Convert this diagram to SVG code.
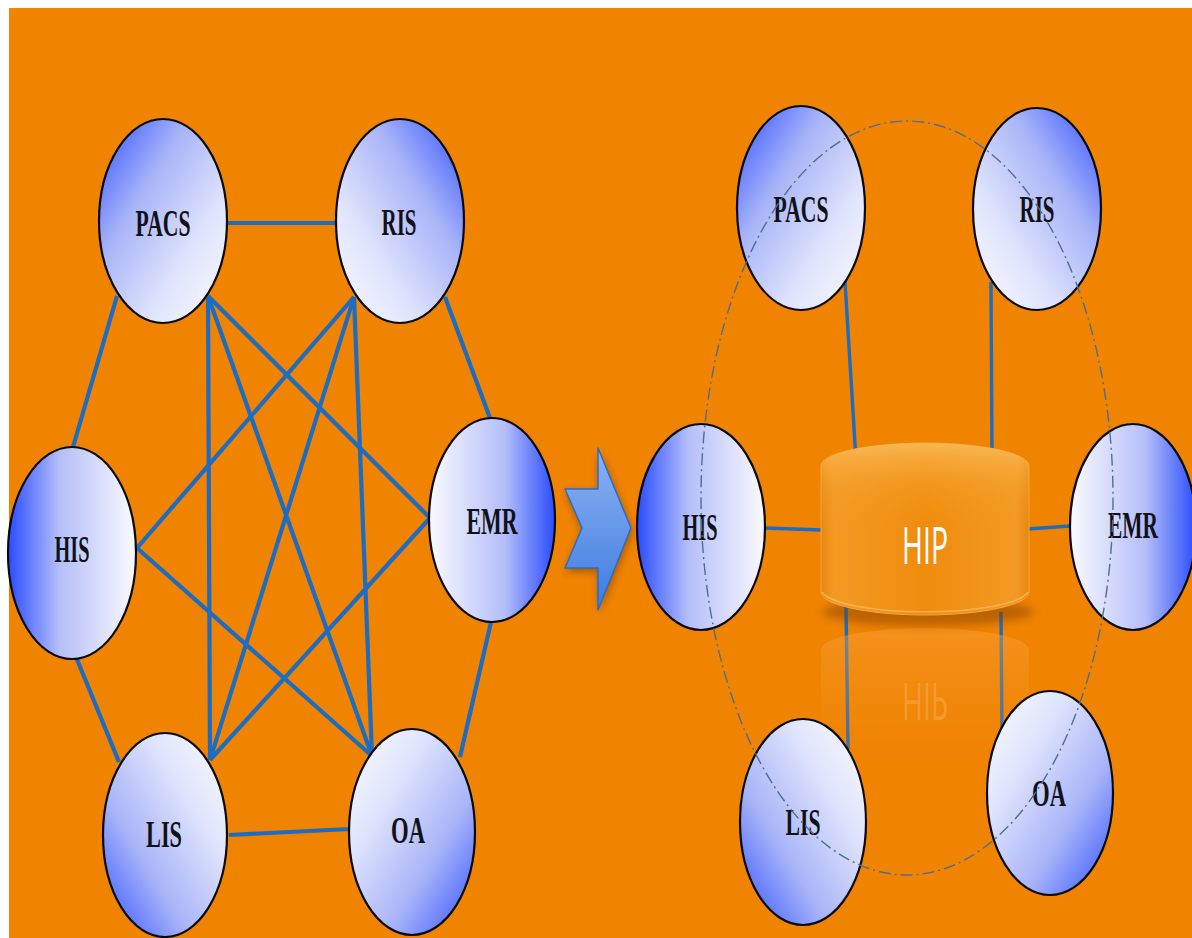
<svg xmlns="http://www.w3.org/2000/svg" width="1192" height="938" viewBox="0 0 1192 938">
  <style>
    .node { stroke: #0a0a0a; stroke-width: 2.2; }
    .lbl { font-family: "Liberation Serif", "Times New Roman", serif; font-weight: bold; font-size: 38px; fill: #111118; text-anchor: middle; }
    .ln { stroke: #1E6CC2; stroke-width: 4.2; stroke-linecap: butt; fill: none; }
    .lnr { stroke: #1E6CC2; stroke-width: 3.4; fill: none; }
  </style>
  <defs>
    <linearGradient id="gPacs" x1="0" y1="0" x2="1" y2="1">
      <stop offset="0" stop-color="#3050FF"/>
      <stop offset="0.35" stop-color="#A8B4F8"/>
      <stop offset="0.7" stop-color="#E2E6FD"/>
      <stop offset="1" stop-color="#FAFAFF"/>
    </linearGradient>
    <linearGradient id="gRis" x1="1" y1="0" x2="0" y2="1">
      <stop offset="0" stop-color="#3050FF"/>
      <stop offset="0.35" stop-color="#A8B4F8"/>
      <stop offset="0.7" stop-color="#E2E6FD"/>
      <stop offset="1" stop-color="#FAFAFF"/>
    </linearGradient>
    <linearGradient id="gHis" x1="0" y1="0" x2="1" y2="0">
      <stop offset="0" stop-color="#2A4CFF"/>
      <stop offset="0.4" stop-color="#B4BEF9"/>
      <stop offset="1" stop-color="#FAFAFF"/>
    </linearGradient>
    <linearGradient id="gEmr" x1="0" y1="0" x2="1" y2="0">
      <stop offset="0" stop-color="#FAFAFF"/>
      <stop offset="0.6" stop-color="#B4BEF9"/>
      <stop offset="1" stop-color="#2A4CFF"/>
    </linearGradient>
    <linearGradient id="gLis" x1="0" y1="1" x2="1" y2="0">
      <stop offset="0" stop-color="#3050FF"/>
      <stop offset="0.35" stop-color="#A8B4F8"/>
      <stop offset="0.7" stop-color="#E2E6FD"/>
      <stop offset="1" stop-color="#FAFAFF"/>
    </linearGradient>
    <linearGradient id="gOa" x1="0" y1="0" x2="1" y2="1">
      <stop offset="0" stop-color="#FAFAFF"/>
      <stop offset="0.3" stop-color="#E2E6FD"/>
      <stop offset="0.65" stop-color="#A8B4F8"/>
      <stop offset="1" stop-color="#3050FF"/>
    </linearGradient>
    <linearGradient id="gArrow" x1="0" y1="0" x2="0" y2="1">
      <stop offset="0" stop-color="#8DB2F2"/>
      <stop offset="1" stop-color="#3D7BE0"/>
    </linearGradient>
    <linearGradient id="gBody" x1="0" y1="0" x2="1" y2="0">
      <stop offset="0" stop-color="#E8870E"/>
      <stop offset="0.06" stop-color="#F39A24"/>
      <stop offset="0.5" stop-color="#EF8C0C"/>
      <stop offset="0.94" stop-color="#F39A24"/>
      <stop offset="1" stop-color="#E8870E"/>
    </linearGradient>
    <linearGradient id="gTopHi" x1="0" y1="0" x2="0" y2="1">
      <stop offset="0" stop-color="#FBC060" stop-opacity="0.8"/>
      <stop offset="0.25" stop-color="#F6A535" stop-opacity="0.35"/>
      <stop offset="0.5" stop-color="#F29A20" stop-opacity="0"/>
    </linearGradient>
    <linearGradient id="gRefl" x1="0" y1="0" x2="0" y2="1">
      <stop offset="0" stop-color="#F7A440" stop-opacity="0.9"/>
      <stop offset="0.6" stop-color="#F39220" stop-opacity="0.45"/>
      <stop offset="1" stop-color="#F08300" stop-opacity="0"/>
    </linearGradient>
    <filter id="shadow" x="-20%" y="-20%" width="140%" height="160%">
      <feGaussianBlur stdDeviation="4"/>
    </filter>
  </defs>

  <rect x="9" y="8" width="1183" height="930" fill="#F08300"/>

  <g id="connectors">
    <line class="ln" x1="228" y1="223" x2="336" y2="223"/>
    <line class="ln" x1="117" y1="296" x2="73" y2="447"/>
    <line class="ln" x1="74" y1="652" x2="119" y2="762"/>
    <line class="ln" x1="229" y1="835" x2="350" y2="829"/>
    <line class="ln" x1="460" y1="757" x2="491" y2="622"/>
    <line class="ln" x1="490" y1="418" x2="445" y2="297"/>
    <line class="ln" x1="208" y1="296" x2="210" y2="760"/>
    <line class="ln" x1="208" y1="296" x2="372" y2="756"/>
    <line class="ln" x1="208" y1="296" x2="430" y2="518"/>
    <line class="ln" x1="354" y1="297" x2="137" y2="548"/>
    <line class="ln" x1="354" y1="297" x2="210" y2="760"/>
    <line class="ln" x1="354" y1="297" x2="372" y2="756"/>
    <line class="ln" x1="137" y1="548" x2="372" y2="756"/>
    <line class="ln" x1="430" y1="518" x2="210" y2="760"/>
    <line class="lnr" x1="845" y1="282" x2="856" y2="460"/>
    <line class="lnr" x1="991" y1="282" x2="992" y2="460"/>
    <line class="lnr" x1="765" y1="528" x2="822" y2="530"/>
    <line class="lnr" x1="1028" y1="529" x2="1070" y2="526"/>
    <line class="lnr" x1="846" y1="606" x2="848" y2="749"/>
    <line class="lnr" x1="1001" y1="612" x2="1002" y2="735"/>
  </g>

  <g id="arrow">
    <polygon points="565,489 598,489 598,448 631,528 598,610 598,568 565,568 582,528" fill="#000" opacity="0.35" filter="url(#shadow)" transform="translate(1,3)"/>
    <polygon points="565,489 598,489 598,448 631,528 598,610 598,568 565,568 582,528" fill="url(#gArrow)" stroke="#2A6BD0" stroke-width="1.5" stroke-linejoin="round"/>
  </g>

  <g id="hip-reflection">
    <path d="M821,650 A104,22 0 0 1 1029,650 L1029,780 L821,780 Z" fill="url(#gRefl)" opacity="0.5"/>
    <text x="0" y="0" transform="translate(925,683) scale(1,-1)" font-family="'Open Sans', 'Liberation Sans', sans-serif" font-size="52" fill="#FFFFFF" fill-opacity="0.18" text-anchor="middle" textLength="46" lengthAdjust="spacingAndGlyphs">HIP</text>
  </g>

  <g id="node-hip">
    <ellipse cx="928" cy="612" rx="106" ry="14" fill="#7a3c00" opacity="0.45" filter="url(#shadow)"/>
    <path d="M821,466 A104,23 0 0 1 1029,466 L1029,592 A104,23 0 0 1 821,592 Z" fill="url(#gBody)" stroke="#F4A541" stroke-width="1"/>
    <path d="M821,466 A104,23 0 0 1 1029,466 L1029,592 A104,23 0 0 1 821,592 Z" fill="url(#gTopHi)"/>
    <path d="M822,592 A104,23 0 0 0 1028,592" fill="none" stroke="#F9BC60" stroke-width="1.5" opacity="0.8"/>
    <text x="925" y="564" font-family="'Open Sans', 'Liberation Sans', sans-serif" font-size="52" fill="#FFFFFF" text-anchor="middle" textLength="46" lengthAdjust="spacingAndGlyphs">HIP</text>
  </g>

  <g id="node-pacs-l"><ellipse class="node" cx="163" cy="221" rx="64" ry="102" fill="url(#gPacs)"/><text class="lbl" x="163" y="236" textLength="55" lengthAdjust="spacingAndGlyphs">PACS</text></g>
  <g id="node-ris-l"><ellipse class="node" cx="400" cy="221" rx="64" ry="102" fill="url(#gRis)"/><text class="lbl" x="399" y="235" textLength="35" lengthAdjust="spacingAndGlyphs">RIS</text></g>
  <g id="node-his-l"><ellipse class="node" cx="72" cy="553" rx="64" ry="106" fill="url(#gHis)"/><text class="lbl" x="72" y="562" textLength="35" lengthAdjust="spacingAndGlyphs">HIS</text></g>
  <g id="node-emr-l"><ellipse class="node" cx="492" cy="520" rx="63" ry="102" fill="url(#gEmr)"/><text class="lbl" x="492" y="534" textLength="51" lengthAdjust="spacingAndGlyphs">EMR</text></g>
  <g id="node-lis-l"><ellipse class="node" cx="165" cy="835" rx="62" ry="102" fill="url(#gLis)"/><text class="lbl" x="164" y="847" textLength="36" lengthAdjust="spacingAndGlyphs">LIS</text></g>
  <g id="node-oa-l"><ellipse class="node" cx="412" cy="832" rx="63" ry="103" fill="url(#gOa)"/><text class="lbl" x="408" y="843" textLength="34" lengthAdjust="spacingAndGlyphs">OA</text></g>

  <g id="node-pacs-r"><ellipse class="node" cx="801" cy="208" rx="64" ry="102" fill="url(#gPacs)"/><text class="lbl" x="801" y="222" textLength="55" lengthAdjust="spacingAndGlyphs">PACS</text></g>
  <g id="node-ris-r"><ellipse class="node" cx="1037" cy="209" rx="64" ry="101" fill="url(#gRis)"/><text class="lbl" x="1037" y="222" textLength="35" lengthAdjust="spacingAndGlyphs">RIS</text></g>
  <g id="node-his-r"><ellipse class="node" cx="701" cy="527" rx="64" ry="103" fill="url(#gHis)"/><text class="lbl" x="700" y="540" textLength="35" lengthAdjust="spacingAndGlyphs">HIS</text></g>
  <g id="node-emr-r"><ellipse class="node" cx="1133" cy="527" rx="63" ry="103" fill="url(#gEmr)"/><text class="lbl" x="1133" y="538" textLength="50" lengthAdjust="spacingAndGlyphs">EMR</text></g>
  <g id="node-lis-r"><ellipse class="node" cx="803" cy="822" rx="63" ry="103" fill="url(#gLis)"/><text class="lbl" x="803" y="835" textLength="35" lengthAdjust="spacingAndGlyphs">LIS</text></g>
  <g id="node-oa-r"><ellipse class="node" cx="1050" cy="793" rx="63" ry="102" fill="url(#gOa)"/><text class="lbl" x="1049" y="806" textLength="34" lengthAdjust="spacingAndGlyphs">OA</text></g>

  <g id="boundary">
    <ellipse cx="907" cy="498" rx="206" ry="377" fill="none" stroke="#4F6E92" stroke-width="1.4" stroke-dasharray="12 4 2 4"/>
  </g>
</svg>
